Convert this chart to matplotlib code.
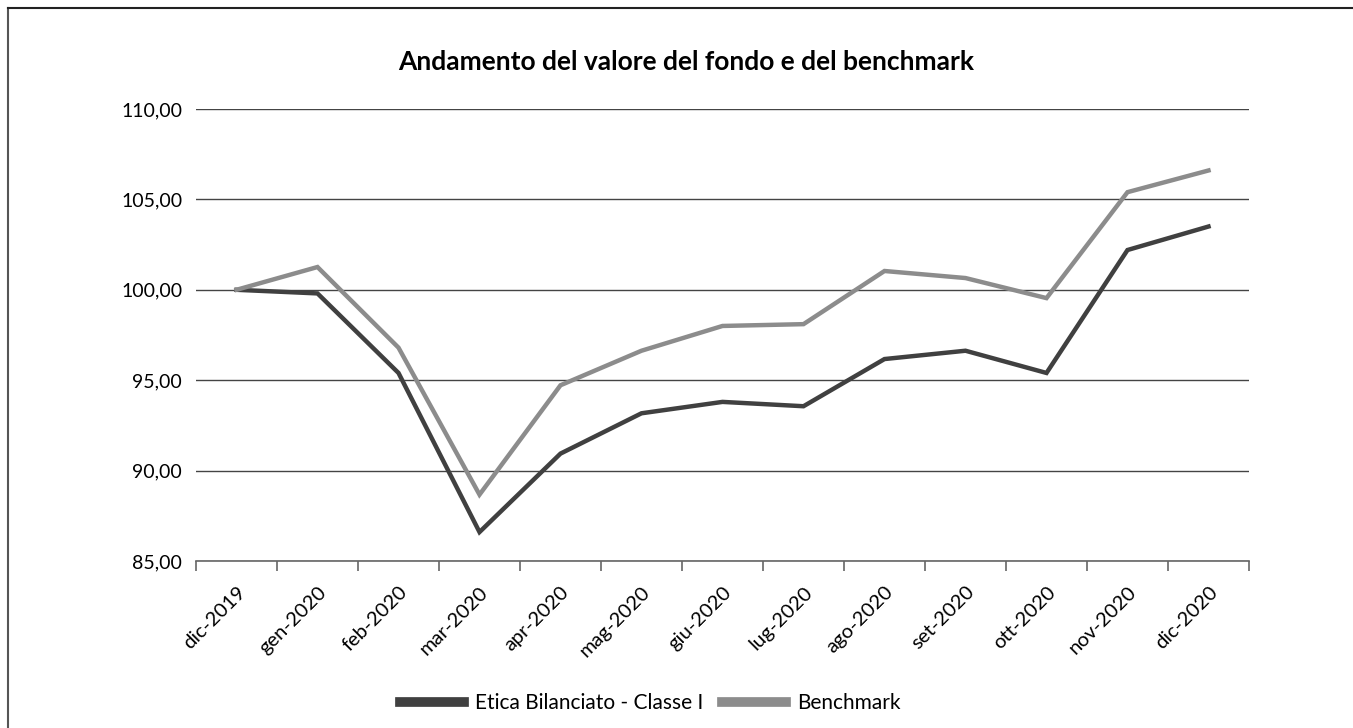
import matplotlib.pyplot as plt
from matplotlib.lines import Line2D
from matplotlib.ticker import FuncFormatter, FixedLocator

# Dati
mesi = ["dic-2019", "gen-2020", "feb-2020", "mar-2020", "apr-2020", "mag-2020", "giu-2020",
        "lug-2020", "ago-2020", "set-2020", "ott-2020", "nov-2020", "dic-2020"]
fondo = [100.0, 99.8, 95.4, 86.6, 90.94, 93.17, 93.8, 93.56, 96.17, 96.63, 95.4, 102.2, 103.5]
benchmark = [100.0, 101.26, 96.8, 88.67, 94.72, 96.63, 98.0, 98.1, 101.04, 100.65, 99.54, 105.4, 106.6]

plt.rcParams['font.family'] = ['Lato', 'DejaVu Sans']

fig = plt.figure(figsize=(13.53, 7.28), dpi=100)
ax = fig.add_axes([196 / 1353, 1 - 561 / 728, (1249 - 196) / 1353, (561 - 109) / 728])

x = list(range(len(mesi)))
ax.plot(x, fondo, color="#404040", lw=3.2, solid_joinstyle="miter", label="Etica Bilanciato - Classe I", zorder=3)
ax.plot(x, benchmark, color="#8c8c8c", lw=3.2, solid_joinstyle="miter", label="Benchmark", zorder=3)

ax.set_xlim(-0.5, len(mesi) - 0.5)
ax.set_ylim(85, 110)
ax.set_yticks([85, 90, 95, 100, 105, 110])
ax.yaxis.set_major_formatter(FuncFormatter(lambda v, p: f"{v:.2f}".replace(".", ",")))
ax.grid(axis="y", color="#444444", lw=1.0)
ax.set_axisbelow(True)

# etichette al centro delle categorie, tacche ai bordi
ax.set_xticks(x)
ax.set_xticklabels(mesi, rotation=45, ha="right", rotation_mode="anchor", fontsize=14.5)
ax.xaxis.set_minor_locator(FixedLocator([i - 0.5 for i in range(len(mesi) + 1)]))
ax.tick_params(axis="x", which="major", length=0, pad=16)
ax.tick_params(axis="x", which="minor", length=7, color="#666666", width=1.2)
ax.tick_params(axis="y", length=0, labelsize=14, pad=10)

for s in ["top", "right", "left"]:
    ax.spines[s].set_visible(False)
ax.spines["bottom"].set_color("#666666")
ax.spines["bottom"].set_linewidth(1.2)

fig.text(686 / 1353, 1 - 62 / 728, "Andamento del valore del fondo e del benchmark",
         ha="center", va="center", fontsize=19, fontweight="bold")

handles = [Line2D([], [], color="#404040", lw=7), Line2D([], [], color="#8c8c8c", lw=7)]
fig.legend(handles, ["Etica Bilanciato - Classe I", "Benchmark"], loc="center",
           bbox_to_anchor=(650 / 1353, 1 - 703 / 728), ncol=2, frameon=False, fontsize=15,
           handlelength=3.1, handletextpad=0.5, columnspacing=0.9)

# cornice esterna
fig.add_artist(Line2D([8 / 1353, 8 / 1353], [0, 1 - 8 / 728], transform=fig.transFigure, color="#555555", lw=1.5))
fig.add_artist(Line2D([8 / 1353, 1], [1 - 8 / 728, 1 - 8 / 728], transform=fig.transFigure, color="#222222", lw=1.5))

fig.savefig("out.png", dpi=100)
